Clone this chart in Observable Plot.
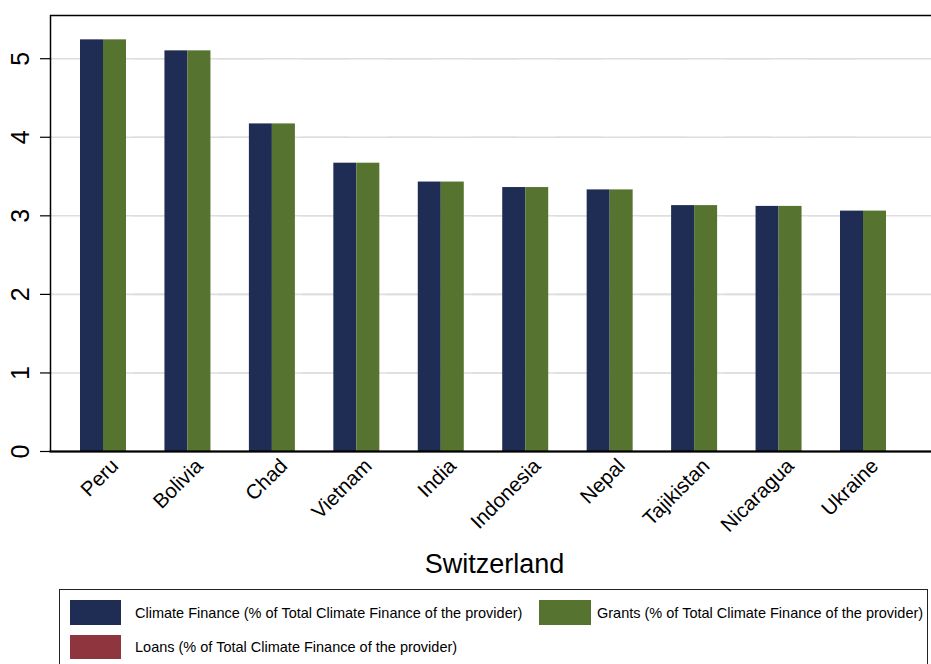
<!DOCTYPE html>
<html>
<head>
<meta charset="utf-8">
<script src="https://cdn.jsdelivr.net/npm/d3@7"></script>
<script src="https://cdn.jsdelivr.net/npm/@observablehq/plot@0.6"></script>
<style>
  html, body { margin: 0; padding: 0; background: #fff; overflow: hidden; width: 931px; height: 664px; }
  #wrap { position: relative; width: 931px; height: 664px; overflow: hidden; font-family: "Liberation Sans", Arial, sans-serif; color: #000; }
  #chart { position: absolute; left: 0; top: 0; width: 939px; }
  #chart svg { max-width: none !important; }
  #title { position: absolute; left: 0; top: 551px; width: 989px; text-align: center; font-size: 27px; line-height: 27px; }
  #legend { position: absolute; left: 59px; top: 589px; width: 869px; height: 110px; border: 1px solid #222; box-sizing: border-box; }
  .item { position: absolute; display: flex; align-items: center; font-size: 14.5px; white-space: nowrap; }
  .sw { display: inline-block; }
</style>
</head>
<body>
<div id="wrap">
  <div id="chart"></div>
  <div id="title"></div>
  <div id="legend"></div>
</div>
<script>
// ---- data ----
const countries = ["Peru", "Bolivia", "Chad", "Vietnam", "India", "Indonesia", "Nepal", "Tajikistan", "Nicaragua", "Ukraine"];
const climateFinance = [5.24, 5.10, 4.17, 3.67, 3.43, 3.36, 3.33, 3.13, 3.12, 3.06];
const grants = [5.24, 5.10, 4.17, 3.67, 3.43, 3.36, 3.33, 3.13, 3.12, 3.06];
const loans = [0, 0, 0, 0, 0, 0, 0, 0, 0, 0];
const seriesNames = [
  "Climate Finance (% of Total Climate Finance of the provider)",
  "Grants (% of Total Climate Finance of the provider)",
  "Loans (% of Total Climate Finance of the provider)"
];
const seriesColors = ["#1f2c54", "#56742f", "#8e353d"];
const yTicks = [0, 1, 2, 3, 4, 5];
const gridTicks = [1, 2, 3, 4, 5];
const titleText = "Switzerland";

const seriesValues = [climateFinance, grants, loans];
const table = countries.flatMap((c, i) =>
  seriesNames.map((s, j) => ({country: c, series: s, value: seriesValues[j][i]}))
);

// outer gap between plot region edge and first/last facet (px)
const OUT = 30;

const chart = Plot.plot({
  width: 939,
  height: 540,
  marginLeft: 50,
  marginRight: 0,
  marginTop: 15,
  marginBottom: 89,
  style: {fontFamily: "'Liberation Sans', Arial, sans-serif", background: "white", color: "black"},
  fx: {domain: countries, paddingInner: 0.1829, paddingOuter: 0.3553, round: false, axis: null, label: null},
  x: {domain: seriesNames, padding: 0, round: false, axis: null},
  y: {domain: [0, 5.55], axis: null},
  color: {domain: seriesNames, range: seriesColors},
  marks: [
    Plot.ruleY(gridTicks, {stroke: "#dedede", strokeWidth: 1.6, insetLeft: -OUT - 1, insetRight: -OUT - 1}),
    Plot.barY(table, {fx: "country", x: "series", y: "value", fill: "series"}),
    Plot.frame({facet: "super", stroke: "black", strokeWidth: 1.5, insetLeft: -OUT, insetRight: -OUT}),
    Plot.frame({facet: "super", anchor: "bottom", stroke: "black", strokeWidth: 2, insetLeft: -OUT, insetRight: -OUT}),
    Plot.axisY({ticks: yTicks, tickSize: 10, tickPadding: 19.5, tickRotate: -90, textAnchor: "middle", lineAnchor: "middle", fontSize: 25, label: null, tickFormat: d => String(d), strokeWidth: 1.2, dx: -OUT}),
    Plot.axisFx({anchor: "bottom", tickRotate: -45, fontSize: 20.5, tickSize: 0, tickPadding: 11, dx: 0, label: null})
  ]
});
document.getElementById("chart").appendChild(chart);

document.getElementById("title").textContent = titleText;

// legend (HTML, below the plot)
const legend = document.getElementById("legend");
const legendLayout = [
  {left: 10, top: 10, w: 51, h: 25, gap: 14},
  {left: 479, top: 10, w: 52, h: 25, gap: 6},
  {left: 10, top: 45, w: 51, h: 24, gap: 14}
];
seriesNames.forEach((s, i) => {
  const L = legendLayout[i];
  const item = document.createElement("div");
  item.className = "item";
  item.style.left = L.left + "px";
  item.style.top = L.top + "px";
  item.style.height = L.h + "px";
  const sw = document.createElement("span");
  sw.className = "sw";
  sw.style.width = L.w + "px";
  sw.style.height = L.h + "px";
  sw.style.marginRight = L.gap + "px";
  sw.style.background = seriesColors[i];
  const tx = document.createElement("span");
  tx.textContent = s;
  item.appendChild(sw);
  item.appendChild(tx);
  legend.appendChild(item);
});
</script>
</body>
</html>
